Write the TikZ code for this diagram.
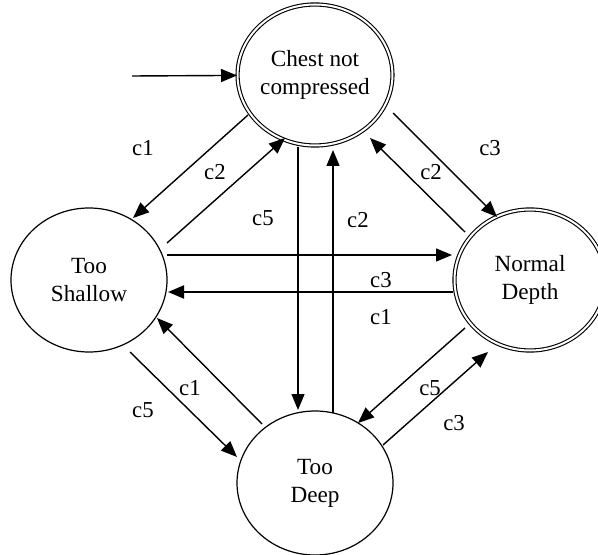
\documentclass[tikz,border=0pt]{standalone}
\usepackage{fontspec}
\setmainfont{Liberation Serif}
\usetikzlibrary{shapes.geometric,arrows.meta}
\tikzset{
	state/.style={ellipse,draw,line width=0.6pt,minimum width=78pt,minimum height=72pt,inner sep=0pt,align=center,font=\fontsize{11.6}{14}\selectfont},
	accept/.style={state,double,double distance=1pt,line width=0.55pt,minimum width=75.5pt,minimum height=70.5pt},
	trans/.style={-{Triangle[length=8pt,width=6.5pt]},line width=0.7pt},
	lab/.style={inner sep=0pt,font=\fontsize{11.4}{13}\selectfont}
}
\begin{document}
\begin{tikzpicture}[x=0.5pt,y=-0.5pt]
			\useasboundingbox (0,0) rectangle (598,555);
			% states
			\node[accept] (chest) at (315,75) {Chest not\\compressed};
			\node[state] (shallow) at (89,280) {Too\\Shallow};
			\node[accept] (normal) at (530,280) {Normal\\Depth};
			\node[state] (deep) at (315,483) {Too\\Deep};
			\coordinate (start) at (132,76);
			\draw[trans] (start) -- (chest);%initial
			
			% transitions
			\draw[trans] ([shift={(-67,40)}]chest.center) -- ([shift={(44,-62)}]shallow.center);
			\draw[trans] ([shift={(78,-37)}]shallow.center) -- ([shift={(-30,63)}]chest.center);
			\draw[trans] ([shift={(-17,72)}]chest.center) -- ([shift={(-17,-73)}]deep.center);
			\draw[trans] ([shift={(18,-70)}]deep.center) -- ([shift={(18,75)}]chest.center);
			\draw[trans] ([shift={(-65,-48)}]normal.center) -- ([shift={(55,63)}]chest.center);
			\draw[trans] ([shift={(78,38)}]chest.center) -- ([shift={(-33,-63)}]normal.center);
			\draw[trans] ([shift={(78,-25)}]shallow.center) -- ([shift={(-78,-25)}]normal.center);
			\draw[trans,line width=1.1pt] ([shift={(-77,12)}]normal.center) -- ([shift={(79,12)}]shallow.center);
			\draw[trans] ([shift={(41,72)}]shallow.center) -- ([shift={(-78,-26)}]deep.center);
			\draw[trans] ([shift={(-53,-59)}]deep.center) -- ([shift={(68,38)}]shallow.center);
			\draw[trans] ([shift={(-65,48)}]normal.center) -- ([shift={(43,-60)}]deep.center);
			\draw[trans] ([shift={(68,-38)}]deep.center) -- ([shift={(-42,72)}]normal.center);
			
			% labels
			\node[lab] (l1) at (143,148) {c1};
			\node[lab] (l2) at (215,172) {c2};
			\node[lab] (l3) at (263,218) {c5};
			\node[lab] (l4) at (358,220) {c2};
			\node[lab] (l5) at (431,172) {c2};
			\node[lab] (l6) at (490,148) {c3};
			\node[lab] (l7) at (381,280) {c3};
			\node[lab] (l8) at (381,317) {c1};
			\node[lab] (l9) at (143,410) {c5};
			\node[lab] (l10) at (190,388) {c1};
			\node[lab] (l11) at (430,388) {c5};
			\node[lab] (l12) at (454,423) {c3};
		\end{tikzpicture}
\end{document}
